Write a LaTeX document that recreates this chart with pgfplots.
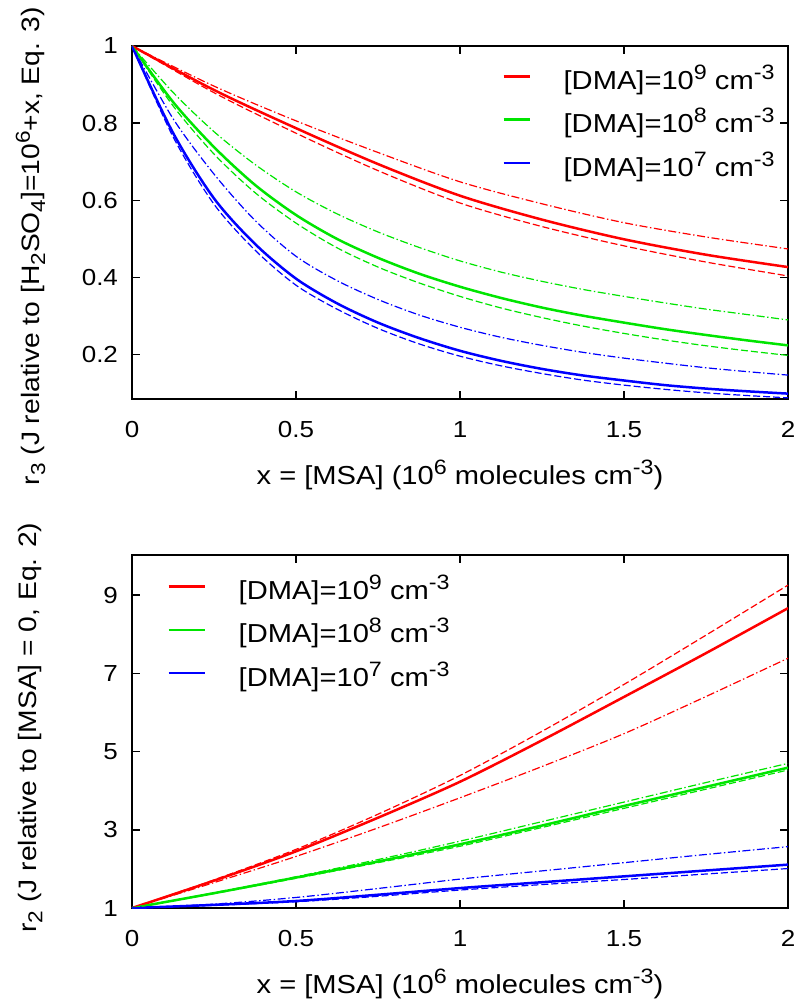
\documentclass[border=0pt]{standalone}
\usepackage{fontspec}
\setmainfont[FakeStretch=1.12]{Liberation Sans}
\usepackage{graphicx}
\usepackage{pgfplots}
\pgfplotsset{compat=1.18}

\newcommand{\sps}[1]{\raisebox{0.38em}{\scalebox{0.8}{#1}}}
\newcommand{\sbs}[1]{\raisebox{-0.22em}{\scalebox{0.8}{#1}}}

\definecolor{gred}{rgb}{1,0,0}
\definecolor{ggreen}{rgb}{0,0.9,0}
\definecolor{gblue}{rgb}{0,0,1}

\pgfplotsset{
  panel/.style={
    width=328pt, height=176.5pt, scale only axis,
    xmin=0, xmax=2, xtick={0,0.5,1,1.5,2},
    axis line style={line width=0.8pt},
    every tick/.style={black, line width=0.8pt},
    major tick length=4pt,
    /pgf/number format/assume math mode=true,
    ticklabel style={font=\fontsize{11.6}{13}\selectfont},
    xticklabel style={yshift=-7.6pt},
    yticklabel style={xshift=-3.5pt},
    every axis x label/.style={at={(axis description cs:0.5,0)}, anchor=center,
      yshift=-38pt, font=\fontsize{13}{15}\selectfont},
    legend style={draw=none, fill=none, inner sep=0pt,
      font=\fontsize{13}{15}\selectfont, cells={anchor=west},
      nodes={inner sep=0pt, text height=13pt, text depth=0pt}, row sep=8.7pt},
  },
  sol/.style={line width=1.25pt, smooth},
  das/.style={line width=0.6pt, smooth, dash pattern=on 3.5pt off 1.5pt, forget plot},
  dd/.style={line width=0.6pt, smooth, dash pattern=on 4pt off 1.3pt on 0.7pt off 1.3pt, forget plot},
}

\begin{document}
\begin{tikzpicture}
\path[use as bounding box] (-66pt,23pt) rectangle (336pt,-477pt);

% top panel: r3
\begin{axis}[panel, at={(0pt,0pt)}, anchor=north west,
  ymin=0.085, ymax=1, ytick={0.2,0.4,0.6,0.8,1},
  xlabel={x = [MSA] (10\sps{6} molecules cm\sps{-3})},
  ylabel={r\sbs{3} (J relative to [H\sbs{2}SO\sbs{4}]=10\sps{6}+x, Eq. 3)},
  every axis y label/.style={at={(axis description cs:-0.1547,0.433)}, rotate=90,
    anchor=center, font=\fontsize{12.6}{14}\selectfont},
  legend image code/.code={\draw[#1] (0pt,0pt) -- (13pt,0pt); \path[draw=none] (0pt,0pt) -- (30pt,0pt);},
  legend style={at={(0.564,0.952)}, anchor=north west},
]
\addplot[gred, sol] coordinates {(0,1) (0.25,0.886) (0.5,0.787) (0.75,0.694) (1,0.612) (1.25,0.550) (1.5,0.499) (1.75,0.459) (2,0.427)};
\addlegendentry{[DMA]=10\sps{9} cm\sps{-3}}
\addplot[ggreen, sol] coordinates {(0,1) (0.125,0.855) (0.25,0.738) (0.375,0.640) (0.5,0.562) (0.625,0.500) (0.75,0.451) (0.875,0.410) (1,0.376) (1.125,0.347) (1.25,0.322) (1.375,0.301) (1.5,0.283) (1.625,0.266) (1.75,0.251) (1.875,0.237) (2,0.224)};
\addlegendentry{[DMA]=10\sps{8} cm\sps{-3}}
\addplot[gblue, sol] coordinates {(0,1) (0.125,0.775) (0.25,0.605) (0.375,0.487) (0.5,0.397) (0.625,0.333) (0.75,0.283) (0.875,0.243) (1,0.210) (1.125,0.184) (1.25,0.163) (1.375,0.146) (1.5,0.133) (1.625,0.121) (1.75,0.112) (1.875,0.105) (2,0.099)};
\addlegendentry{[DMA]=10\sps{7} cm\sps{-3}}

\addplot[gred, das] coordinates {(0,1) (0.25,0.879) (0.5,0.774) (0.75,0.677) (1,0.593) (1.25,0.532) (1.5,0.482) (1.75,0.440) (2,0.404)};
\addplot[gred, dd] coordinates {(0,1) (0.25,0.896) (0.5,0.806) (0.75,0.724) (1,0.648) (1.25,0.591) (1.5,0.542) (1.75,0.505) (2,0.474)};
\addplot[ggreen, das] coordinates {(0,1) (0.125,0.845) (0.25,0.720) (0.375,0.620) (0.5,0.541) (0.625,0.477) (0.75,0.427) (0.875,0.386) (1,0.351) (1.125,0.321) (1.25,0.296) (1.375,0.274) (1.5,0.255) (1.625,0.238) (1.75,0.223) (1.875,0.210) (2,0.198)};
\addplot[ggreen, dd] coordinates {(0,1) (0.125,0.880) (0.25,0.778) (0.375,0.693) (0.5,0.622) (0.625,0.565) (0.75,0.518) (0.875,0.478) (1,0.443) (1.125,0.414) (1.25,0.390) (1.375,0.369) (1.5,0.351) (1.625,0.334) (1.75,0.318) (1.875,0.304) (2,0.290)};
\addplot[gblue, das] coordinates {(0,1) (0.125,0.765) (0.25,0.590) (0.375,0.471) (0.5,0.380) (0.625,0.318) (0.75,0.268) (0.875,0.228) (1,0.196) (1.125,0.171) (1.25,0.151) (1.375,0.134) (1.5,0.121) (1.625,0.110) (1.75,0.101) (1.875,0.094) (2,0.088)};
\addplot[gblue, dd] coordinates {(0,1) (0.125,0.812) (0.25,0.668) (0.375,0.548) (0.5,0.455) (0.625,0.392) (0.75,0.343) (0.875,0.303) (1,0.271) (1.125,0.245) (1.25,0.224) (1.375,0.206) (1.5,0.191) (1.625,0.178) (1.75,0.166) (1.875,0.156) (2,0.147)};
\end{axis}

% bottom panel: r2
\begin{axis}[panel, at={(0pt,-254.5pt)}, anchor=north west,
  ymin=1, ymax=10.03, ytick={1,3,5,7,9},
  xlabel={x = [MSA] (10\sps{6} molecules cm\sps{-3})},
  ylabel={r\sbs{2} (J relative to [MSA] = 0, Eq. 2)},
  every axis y label/.style={at={(axis description cs:-0.1547,0.511)}, rotate=90,
    anchor=center, font=\fontsize{12.6}{14}\selectfont},
  legend image code/.code={\draw[#1] (0pt,0pt) -- (18pt,0pt); \path[draw=none] (0pt,0pt) -- (35pt,0pt);},
  legend style={at={(0.0534,0.949)}, anchor=north west},
]
\addplot[gred, sol] coordinates {(0,1) (0.25,1.70) (0.5,2.45) (0.75,3.31) (1,4.23) (1.25,5.29) (1.5,6.40) (1.75,7.52) (2,8.67)};
\addlegendentry{[DMA]=10\sps{9} cm\sps{-3}}
\addplot[ggreen, sol] coordinates {(0,1) (0.25,1.38) (0.5,1.78) (0.75,2.19) (1,2.63) (1.25,3.11) (1.5,3.61) (1.75,4.10) (2,4.59)};
\addlegendentry{[DMA]=10\sps{8} cm\sps{-3}}
\addplot[gblue, sol] coordinates {(0,1) (0.25,1.08) (0.5,1.18) (0.75,1.34) (1,1.51) (1.25,1.66) (1.5,1.81) (1.75,1.96) (2,2.11)};
\addlegendentry{[DMA]=10\sps{7} cm\sps{-3}}

\addplot[gred, das] coordinates {(0,1) (0.25,1.72) (0.5,2.50) (0.75,3.40) (1,4.39) (1.25,5.52) (1.5,6.72) (1.75,7.98) (2,9.26)};
\addplot[gred, dd] coordinates {(0,1) (0.25,1.65) (0.5,2.32) (0.75,3.05) (1,3.82) (1.25,4.62) (1.5,5.46) (1.75,6.41) (2,7.39)};
\addplot[ggreen, das] coordinates {(0,1) (0.25,1.37) (0.5,1.76) (0.75,2.16) (1,2.58) (1.25,3.06) (1.5,3.55) (1.75,4.04) (2,4.53)};
\addplot[ggreen, dd] coordinates {(0,1) (0.25,1.39) (0.5,1.80) (0.75,2.24) (1,2.71) (1.25,3.21) (1.5,3.71) (1.75,4.21) (2,4.70)};
\addplot[gblue, das] coordinates {(0,1) (0.25,1.07) (0.5,1.16) (0.75,1.30) (1,1.46) (1.25,1.60) (1.5,1.73) (1.75,1.87) (2,2.01)};
\addplot[gblue, dd] coordinates {(0,1) (0.25,1.10) (0.5,1.27) (0.75,1.50) (1,1.74) (1.25,1.95) (1.5,2.16) (1.75,2.37) (2,2.57)};
\end{axis}
\end{tikzpicture}
\end{document}
